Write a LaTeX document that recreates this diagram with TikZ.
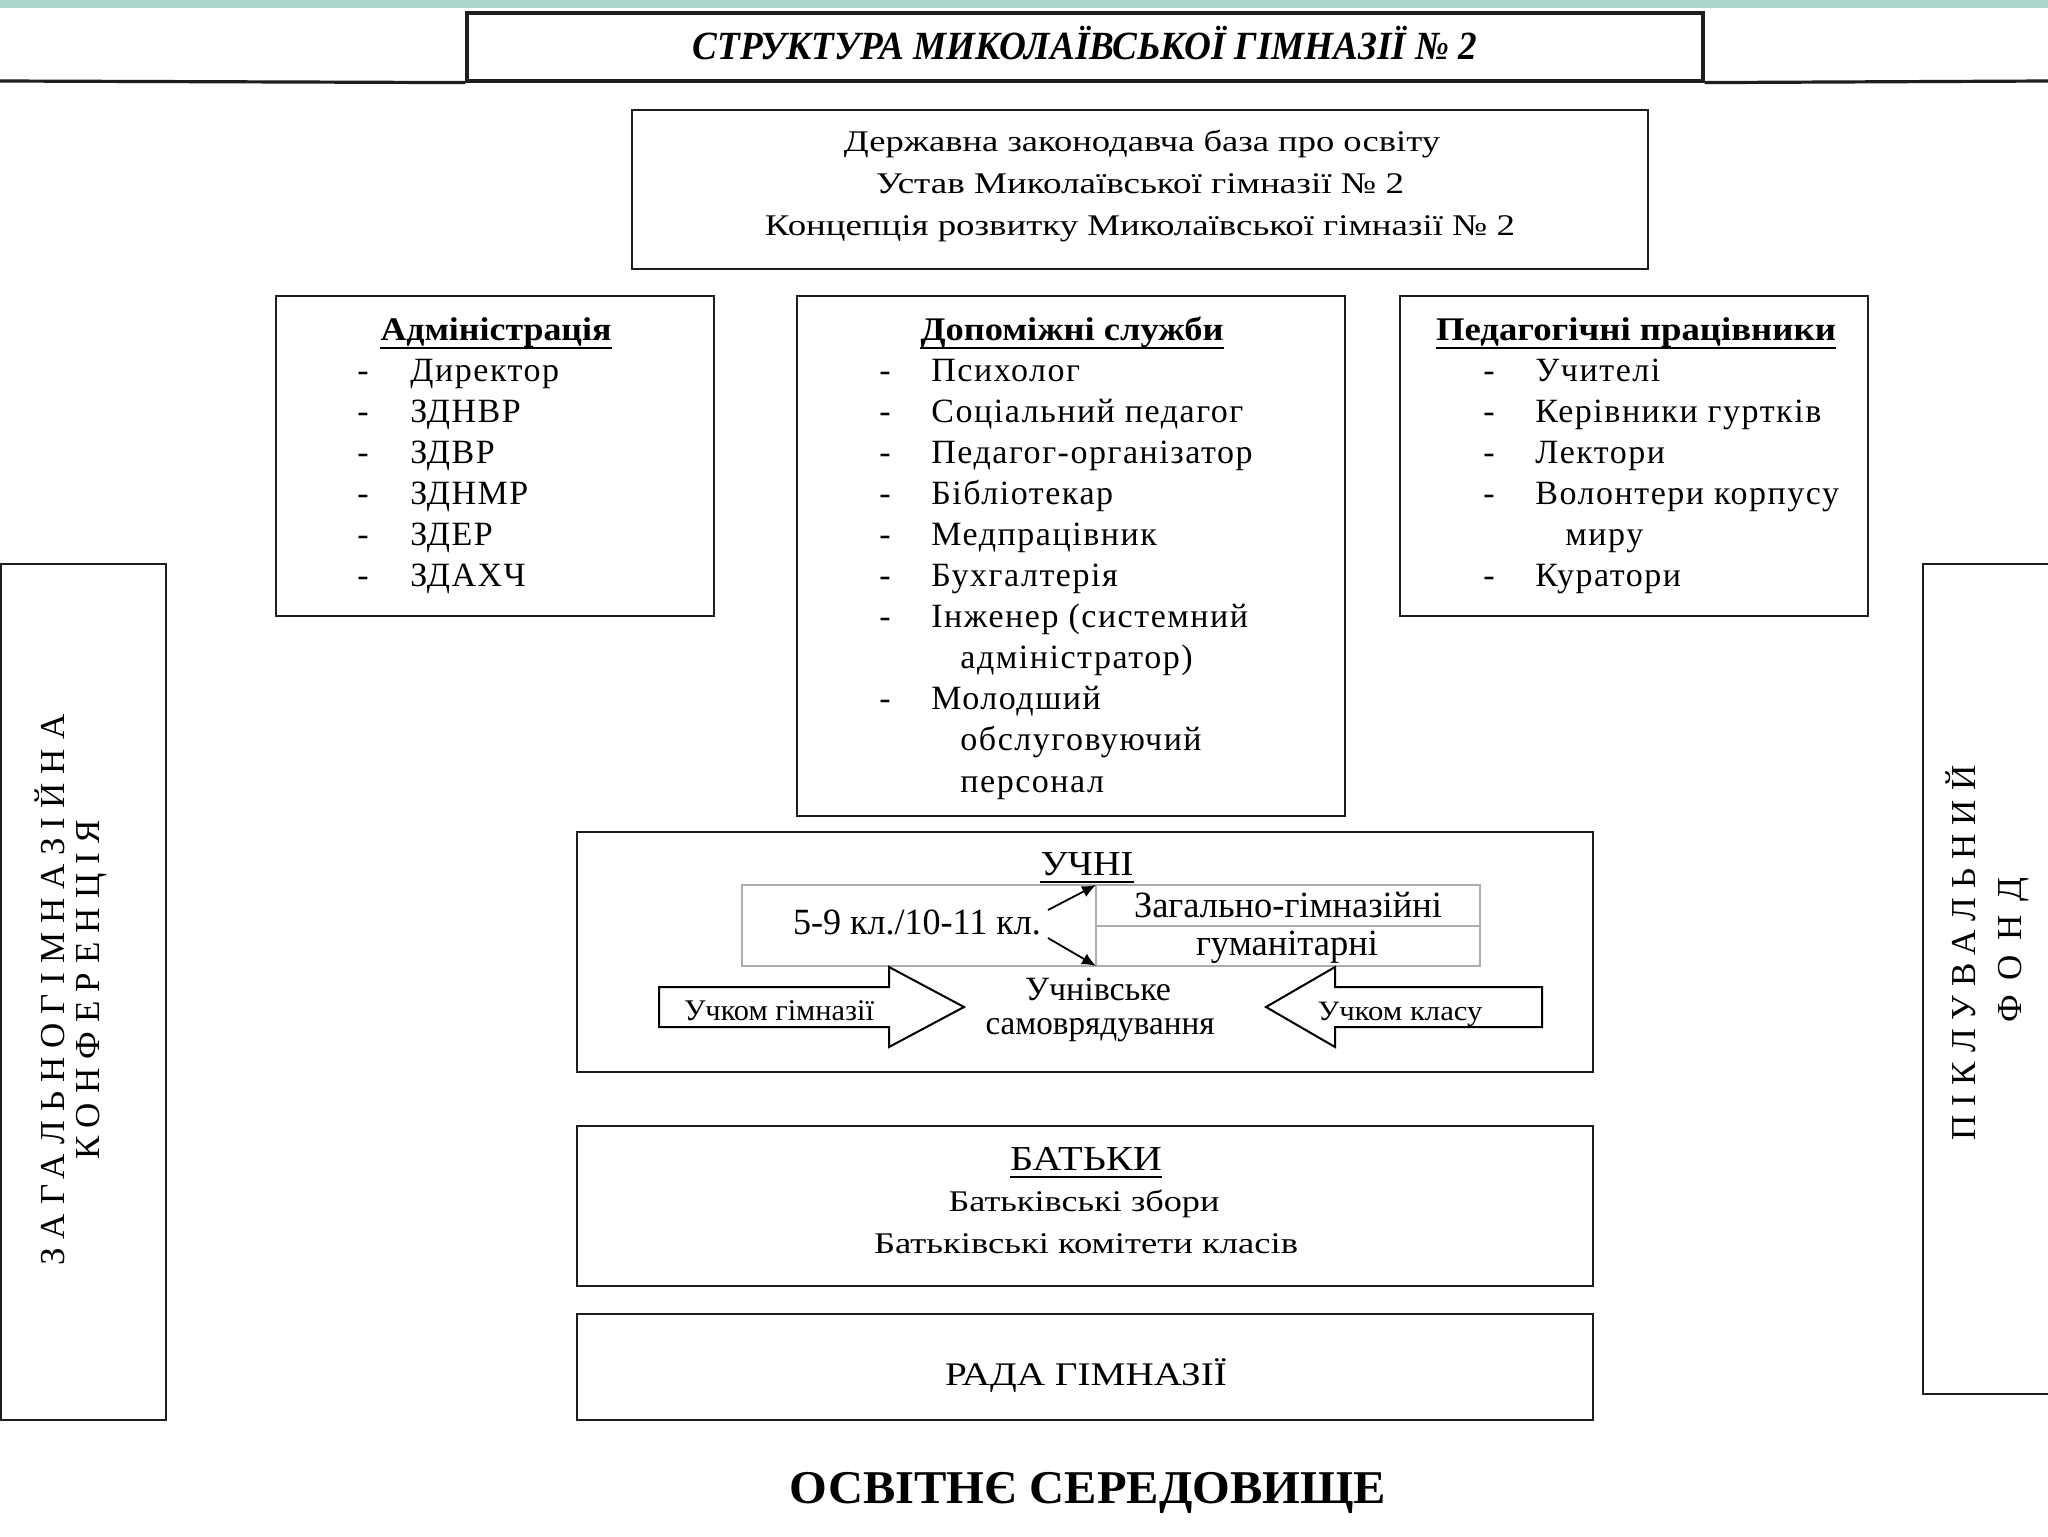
\documentclass[tikz,border=0pt]{standalone}
\usepackage{fontspec}
\usepackage{graphicx}
\setmainfont{Liberation Serif}
\newfontfamily\lsfont[LetterSpace=4.5]{Liberation Serif}
\newfontfamily\widefont[LetterSpace=26]{Liberation Serif}
\usetikzlibrary{arrows.meta,fit}
\newcommand\fw[2]{\resizebox{#1}{\height}{#2}}
\newcommand\fsz[1]{\fontsize{#1}{#1}\selectfont}
\definecolor{band}{RGB}{172,214,206}
\definecolor{boxln}{RGB}{30,30,30}
\begin{document}
\begin{tikzpicture}[x=0.5pt,y=-0.5pt,
  box/.style={draw=boxln,line width=1pt,inner sep=0pt},
  t/.style={inner sep=0pt,anchor=base},
  itm/.style={inner sep=0pt,anchor=base west,font=\lsfont\fsz{17}},
  dsh/.style={inner sep=0pt,anchor=base west,font=\fsz{17}},
  ul/.style={line width=1.4pt},
  grayln/.style={draw=black!32,line width=0.8pt},
  barrow/.style={draw=black,line width=1pt,fill=white},
  vt/.style={inner sep=0pt,rotate=90,font=\widefont\fsz{17.5}}]

\useasboundingbox (0,0) rectangle (2048,1536);
\fill[white] (0,0) rectangle (2048,1536);
\fill[band] (0,0) rectangle (2048,8);

% title
\node[box,line width=1.6pt,fit={(467,13)(1703,81)}] (titlebox) {};
\coordinate (lineL) at (0,81);
\coordinate (lineR) at (2048,81);
\draw[line width=1.6pt,boxln] (lineL) -- (titlebox.south west);
\draw[line width=1.6pt,boxln] (titlebox.south east) -- (lineR);
\node[t,font=\bfseries\itshape\fsz{20}] (title) at (1085,60) {\fw{392pt}{СТРУКТУРА МИКОЛАЇВСЬКОЇ ГІМНАЗІЇ № 2}};

% legal base
\node[box,fit={(632,110)(1648,269)}] (legal) {};
\node[t,font=\fsz{15}] (l1) at (1142,151) {\fw{298pt}{Державна законодавча база про освіту}};
\node[t,font=\fsz{15}] (l2) at (1140,193) {\fw{264pt}{Устав Миколаївської гімназії № 2}};
\node[t,font=\fsz{15}] (l3) at (1140,235) {\fw{375pt}{Концепція розвитку Миколаївської гімназії № 2}};

% administration
\node[box,fit={(276,296)(714,616)}] (adm) {};
\node[t,font=\bfseries\fsz{16.5}] (hadm) at (496,340) {\fw{115.5pt}{Адміністрація}};
\draw[ul] ([yshift=-4pt]hadm.base west) -- ([yshift=-4pt]hadm.base east);
\foreach \txt [count=\i from 0] in {Директор,ЗДНВР,ЗДВР,ЗДНМР,ЗДЕР,ЗДАХЧ}{
  \node[dsh] (ad\i) at (357,{381+41*\i}) {-};
  \node[itm] (at\i) at (410,{381+41*\i}) {\txt};
}

% auxiliary services
\node[box,fit={(797,296)(1345,816)}] (dop) {};
\node[t,font=\bfseries\fsz{16.5}] (hdop) at (1072,340) {\fw{151.5pt}{Допоміжні служби}};
\draw[ul] ([yshift=-4pt]hdop.base west) -- ([yshift=-4pt]hdop.base east);
\foreach \txt/\j [count=\i from 0] in {Психолог/0,Соціальний педагог/1,Педагог-організатор/2,Бібліотекар/3,Медпрацівник/4,Бухгалтерія/5,Інженер (системний/6,Молодший/8}{
  \node[dsh] (dd\i) at (879,{381+41.1*\j}) {-};
  \node[itm] (dt\i) at (931,{381+41.1*\j}) {\txt};
}
\node[itm] (dc1) at (960,{381+41.1*7}) {адміністратор)};
\node[itm] (dc2) at (960,{381+41.1*9}) {обслуговуючий};
\node[itm] (dc3) at (960,{381+41.1*10}) {персонал};

% pedagogical staff
\node[box,fit={(1400,296)(1868,616)}] (ped) {};
\node[t,font=\bfseries\fsz{16.5}] (hped) at (1636,340) {\fw{200pt}{Педагогічні працівники}};
\draw[ul] ([yshift=-4pt]hped.base west) -- ([yshift=-4pt]hped.base east);
\foreach \txt/\j [count=\i from 0] in {Учителі/0,Керівники гуртків/1,Лектори/2,Волонтери корпусу/3,Куратори/5}{
  \node[dsh] (pd\i) at (1483,{381+41*\j}) {-};
  \node[itm] (pt\i) at (1535,{381+41*\j}) {\txt};
}
\node[itm] (pc1) at (1565,{381+41*4}) {миру};

% side boxes
\node[box,fit={(1,564)(166,1420)}] (conf) {};
\node[vt] (conf1) at (50,990) {ЗАГАЛЬНОГІМНАЗІЙНА};
\node[vt] (conf2) at (92,990) {КОНФЕРЕНЦІЯ};
\node[box,fit={(1923,564)(2080,1394)}] (fund) {};
\node[vt] (fund1) at (1961,953) {ПІКЛУВАЛЬНИЙ};
\node[vt] (fund2) at (2014,950) {\addfontfeature{LetterSpace=40}ФОНД};

% pupils
\node[box,fit={(577,832)(1593,1072)}] (pupils) {};
\node[t,font=\fsz{17.5}] (hpup) at (1087,875) {\fw{46.5pt}{УЧНІ}};
\draw[ul] ([yshift=-3.5pt]hpup.base west) -- ([yshift=-3.5pt]hpup.base east);
\node[grayln,inner sep=0pt,fit={(742,885)(1480,966)}] (grid) {};
\coordinate (gtop) at (1096,885);
\coordinate (gbot) at (1096,966);
\coordinate (gmidL) at (1096,926);
\coordinate (gmidR) at (1480,926);
\draw[grayln] (gtop) -- (gbot);
\draw[grayln] (gmidL) -- (gmidR);
\node[t,font=\fsz{18.5}] (cls) at (917,934) {\fw{124pt}{5-9 кл./10-11 кл.}};
\node[t,font=\fsz{18.5}] (gen) at (1288,917) {\fw{154pt}{Загально-гімназійні}};
\node[t,font=\fsz{18.5}] (hum) at (1287,955) {\fw{91pt}{гуманітарні}};
\coordinate (a1s) at (1048,910);
\coordinate (a2s) at (1048,938);
\draw[line width=0.9pt,-{Latex[length=7pt,width=6pt]}] (a1s) -- (gtop);
\draw[line width=0.9pt,-{Latex[length=7pt,width=6pt]}] (a2s) -- (gbot);
\node[t,font=\fsz{17}] (self1) at (1098,1000) {\fw{73pt}{Учнівське}};
\node[t,font=\fsz{17}] (self2) at (1100,1034) {\fw{114.5pt}{самоврядування}};
\draw[barrow] (659,987) -- (889,987) -- (889,967) -- (964,1007) -- (889,1047) -- (889,1027) -- (659,1027) -- cycle;
\draw[barrow] (1542,987) -- (1335,987) -- (1335,967) -- (1266,1007) -- (1335,1047) -- (1335,1027) -- (1542,1027) -- cycle;
\node[t,font=\fsz{15}] (ucg) at (779,1020) {\fw{95pt}{Учком гімназії}};
\node[t,font=\fsz{14}] (ucc) at (1400,1020) {\fw{82.5pt}{Учком класу}};

% parents
\node[box,fit={(577,1126)(1593,1286)}] (parents) {};
\node[t,font=\fsz{17.5}] (hpar) at (1086,1170) {\fw{76pt}{БАТЬКИ}};
\draw[ul] ([yshift=-3.5pt]hpar.base west) -- ([yshift=-3.5pt]hpar.base east);
\node[t,font=\fsz{15}] (par1) at (1084,1211) {\fw{135.5pt}{Батьківські збори}};
\node[t,font=\fsz{15}] (par2) at (1086,1253) {\fw{212pt}{Батьківські комітети класів}};

% council
\node[box,fit={(577,1314)(1593,1420)}] (council) {};
\node[t,font=\fsz{16.5}] (rada) at (1086,1385) {\fw{141pt}{РАДА ГІМНАЗІЇ}};

% environment
\node[t,font=\bfseries\fsz{23.5}] (env) at (1088,1503) {\fw{298pt}{ОСВІТНЄ СЕРЕДОВИЩЕ}};
\end{tikzpicture}
\end{document}
